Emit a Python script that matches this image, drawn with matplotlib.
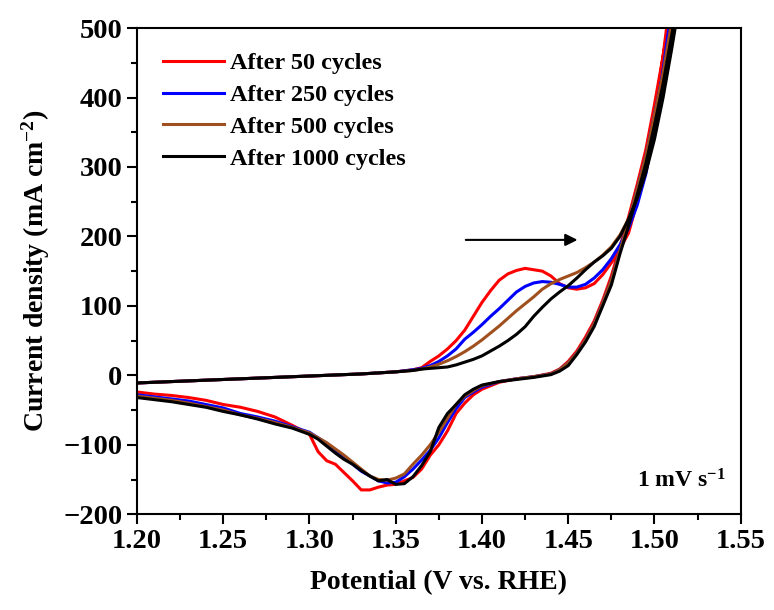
import numpy as np
import matplotlib
matplotlib.use('Agg')
import matplotlib.pyplot as plt
from matplotlib.ticker import MultipleLocator

# forward (anodic) scan potentials, V vs. RHE
v_up = [1.20, 1.22, 1.25, 1.28, 1.30, 1.33, 1.35, 1.36, 1.365, 1.37, 1.375, 1.38,
        1.385, 1.39, 1.395, 1.40, 1.405, 1.41, 1.415, 1.42, 1.425, 1.43, 1.435,
        1.44, 1.445, 1.45, 1.455, 1.46, 1.465, 1.47, 1.475, 1.48, 1.485, 1.49,
        1.495, 1.50, 1.505, 1.51, 1.515, 1.52]

# reverse (cathodic) scan potentials
v_down = [1.52, 1.515, 1.51, 1.505, 1.50, 1.495, 1.49, 1.485, 1.48, 1.475, 1.47,
          1.465, 1.46, 1.455, 1.45, 1.445, 1.44, 1.43, 1.42, 1.41, 1.40, 1.395,
          1.39, 1.385, 1.38, 1.375, 1.37, 1.365, 1.36, 1.355, 1.35, 1.345, 1.34,
          1.335, 1.33, 1.325, 1.32, 1.315, 1.31, 1.305, 1.30, 1.29, 1.28, 1.27,
          1.26, 1.25, 1.24, 1.23, 1.22, 1.21, 1.20]

# current density, mA cm-2
i_up_50 = [-11, -9, -6, -3, -1, 2, 5, 8, 11, 20, 28, 38, 50, 65, 85, 105, 122, 137,
           146, 151, 154, 152, 150, 143, 132, 126, 124, 126, 132, 145, 162, 182,
           205, 250, 300, 370, 460, 560, 660, 760]
i_down_50 = [700, 610, 530, 460, 390, 325, 275, 228, 185, 143, 108, 78, 55, 35, 20,
             9, 3, -2, -5, -10, -20, -28, -40, -55, -80, -100, -115, -135, -147,
             -152, -157, -158, -161, -165, -165, -152, -140, -128, -123, -110, -85,
             -72, -60, -52, -46, -42, -36, -32, -29, -27, -24]

i_up_250 = [-11, -9, -6, -3, -1, 2, 5, 8, 10, 14, 20, 28, 38, 52, 62, 73, 85, 96,
            108, 120, 128, 133, 135, 134, 131, 127, 127, 131, 140, 152, 168, 188,
            212, 245, 290, 355, 440, 530, 630, 730]
i_down_250 = [660, 590, 510, 435, 375, 315, 268, 222, 180, 137, 104, 74, 51, 32, 18,
              8, 2, -2, -5, -9, -17, -24, -32, -48, -68, -90, -108, -122, -135,
              -146, -154, -155, -152, -145, -138, -128, -118, -108, -98, -90, -82,
              -74, -66, -60, -55, -47, -42, -37, -34, -31, -28]

i_up_500 = [-11, -9, -6, -3, -1, 2, 5, 7, 9, 12, 16, 21, 27, 34, 42, 51, 61, 71,
            82, 93, 103, 113, 124, 132, 138, 143, 148, 155, 163, 173, 185, 202,
            225, 255, 295, 350, 420, 500, 590, 690]
i_down_500 = [660, 590, 510, 435, 375, 315, 268, 222, 180, 137, 104, 74, 51, 32, 18,
              8, 2, -2, -5, -9, -15, -22, -30, -42, -62, -82, -100, -115, -128,
              -142, -148, -151, -150, -145, -135, -125, -115, -106, -97, -90, -83,
              -75, -68, -62, -57, -50, -45, -40, -36, -33, -30]

i_up_1000 = [-11, -9, -6, -3, -1, 2, 5, 7, 9, 10, 11, 12, 15, 19, 23, 28, 35, 42,
             50, 59, 70, 85, 98, 110, 120, 129, 140, 152, 163, 172, 183, 200, 225,
             255, 292, 340, 400, 470, 545, 620]
i_down_1000 = [620, 560, 490, 420, 360, 305, 260, 215, 175, 130, 100, 70, 48, 30,
               14, 6, 1, -3, -6, -9, -14, -20, -28, -42, -55, -75, -110, -130, -146,
               -156, -157, -150, -152, -145, -137, -128, -121, -112, -102, -92, -85,
               -76, -70, -63, -57, -52, -46, -42, -38, -35, -32]

labels = ['After 50 cycles', 'After 250 cycles', 'After 500 cycles', 'After 1000 cycles']
colors = ['#ff0000', '#0000ff', '#a0501e', '#000000']

plt.rcParams['font.family'] = ['Liberation Serif', 'DejaVu Serif']
plt.rcParams['font.weight'] = 'bold'
plt.rcParams['mathtext.fontset'] = 'custom'
plt.rcParams['mathtext.rm'] = 'Liberation Serif:bold'
plt.rcParams['mathtext.default'] = 'rm'

fig = plt.figure(figsize=(7.74, 6.10), dpi=100)
ax = fig.add_axes([0.177, 0.157, 0.780, 0.797])

series = [(i_up_50, i_down_50), (i_up_250, i_down_250),
          (i_up_500, i_down_500), (i_up_1000, i_down_1000)]
for (up, down), lab, col in zip(series, labels, colors):
    v = np.concatenate([v_up, v_down])
    i = np.concatenate([up, down])
    ax.plot(v, i, color=col, lw=2.2, label=lab)

ax.set_xlim(1.20, 1.55)
ax.set_ylim(-200, 500)
ax.xaxis.set_major_locator(MultipleLocator(0.05))
ax.xaxis.set_minor_locator(MultipleLocator(0.025))
ax.yaxis.set_major_locator(MultipleLocator(100))
ax.yaxis.set_minor_locator(MultipleLocator(50))
ax.xaxis.set_major_formatter(plt.FormatStrFormatter('%.2f'))
ax.tick_params(which='major', direction='out', length=7, width=1.5, labelsize=20.5)
ax.tick_params(which='minor', direction='out', length=4, width=1.5)
for s in ax.spines.values():
    s.set_linewidth(1.5)

ax.set_xlabel('Potential (V vs. RHE)', fontsize=20, fontweight='bold', labelpad=12)
ax.set_ylabel('Current density (mA cm$^{-2}$)', fontsize=20, fontweight='bold', labelpad=8)

ax.annotate('', xy=(1.457, 195), xytext=(1.389, 195),
            arrowprops=dict(arrowstyle='-|>', color='black', lw=1.5, mutation_scale=18))

ax.text(0.975, 0.045, '1 mV s$^{-1}$', transform=ax.transAxes, ha='right', va='bottom',
        fontsize=17, fontweight='bold')

ax.legend(loc='upper left', bbox_to_anchor=(0.007, 0.995), frameon=False,
          handlelength=2.5, handletextpad=0.25, labelspacing=0.4,
          prop={'weight': 'bold', 'size': 17.5})

fig.savefig('out.png', dpi=100)
